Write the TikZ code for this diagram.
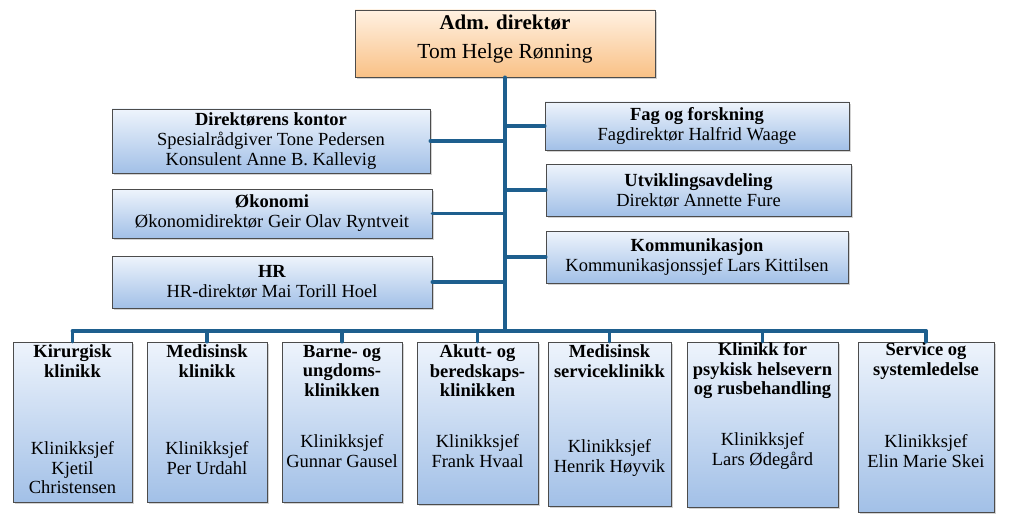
\documentclass[tikz,border=0pt]{standalone}
\usepackage{fontspec}
\setmainfont{Liberation Serif}
\usetikzlibrary{shadows}
\definecolor{linkblue}{HTML}{1E5F8E}
\definecolor{boxtop}{HTML}{EEF4FC}
\definecolor{boxbot}{HTML}{A2C0E7}
\definecolor{admtop}{HTML}{FFF1E2}
\definecolor{admbot}{HTML}{F9C186}
\def\bustop{342}

\begin{document}
\begin{tikzpicture}[x=1pt,y=-1pt]
    \tikzset{%
      box/.style={%
        draw=black!70, line width=0.6pt, top color=boxtop, bottom color=boxbot,
        drop shadow={shadow xshift=2pt, shadow yshift=-2pt, opacity=0.35},
        align=center, inner sep=1pt, font=\fontsize{18.5}{20}\selectfont},
      admbox/.style={box, top color=admtop, bottom color=admbot},
      cltext/.style={align=center, inner sep=0pt, font=\fontsize{18.5}{19.5}\selectfont},
      conn/.style={linkblue, line width=3.6pt, line cap=round, line join=round}}

    \fill[white] (0,0) rectangle (1024,524);
    \useasboundingbox (0,0) rectangle (1024,524);

    % top
    \node[admbox, minimum width=300pt, minimum height=67pt] (adm) at (505,43.5) {};
    \node[cltext, font=\fontsize{21}{24}\selectfont\bfseries] (adm-t) at (505,23) {Adm. direktør};
    \node[cltext, font=\fontsize{21.5}{24}\selectfont] (adm-n) at (505,53) {Tom Helge Rønning};

    % staff, left side
    \node[box, minimum width=318pt, minimum height=64pt] (dir) at (271,141)
      {\textbf{Direktørens kontor}\\Spesialrådgiver Tone Pedersen\\Konsulent Anne B. Kallevig};
    \node[box, minimum width=320pt, minimum height=49pt] (oko) at (272,213.5)
      {\textbf{Økonomi}\\Økonomidirektør Geir Olav Ryntveit};
    \node[box, minimum width=320pt, minimum height=52pt] (hr) at (272,282)
      {\textbf{HR}\\HR-direktør Mai Torill Hoel};

    % staff, right side
    \node[box, minimum width=304pt, minimum height=48pt] (fag) at (697,126)
      {\textbf{Fag og forskning}\\Fagdirektør Halfrid Waage};
    \node[box, minimum width=305pt, minimum height=52pt] (utv) at (698.5,190)
      {\textbf{Utviklingsavdeling}\\Direktør Annette Fure};
    \node[box, minimum width=302pt, minimum height=52pt] (kom) at (697,257)
      {\textbf{Kommunikasjon}\\Kommunikasjonssjef Lars Kittilsen};

    % clinics
    \foreach \nm/\xa/\xb/\yb/\ty/\title/\ny/\names in {%
      kir/13/132/502/361/{Kirurgisk\\klinikk}/468/{Klinikksjef\\Kjetil\\Christensen},
      med/147/267/502/361/{Medisinsk\\klinikk}/458/{Klinikksjef\\Per Urdahl},
      bu/282/402/502/371/{Barne- og\\ungdoms-\\klinikken}/451/{Klinikksjef\\Gunnar Gausel},
      akutt/417/538/504/371/{Akutt- og\\beredskaps-\\klinikken}/451/{Klinikksjef\\Frank Hvaal},
      msk/548/671/506/361/{Medisinsk\\serviceklinikk}/458/{Klinikksjef\\Henrik Høyvik},
      psyk/687/838/507/371/{Klinikk for\\psykisk helsevern\\og rusbehandling}/451/{Klinikksjef\\Lars Ødegård},
      ssl/858/994/512/361/{Service og\\systemledelse}/451/{Klinikksjef\\Elin Marie Skei}}{
      \node[box, minimum width={(\xb-\xa)*1pt}, minimum height={(\yb-\bustop)*1pt}] (\nm)
        at ({(\xa+\xb)/2},{(\bustop+\yb)/2}) {};
      \node[cltext, font=\fontsize{18.5}{19.5}\selectfont\bfseries] (\nm-t) at ({(\xa+\xb)/2},\ty) {\title};
      \node[cltext] (\nm-n) at ({(\xa+\xb)/2},\ny) {\names};
    }

    % lines
    \coordinate (hub) at (505,331);
    \draw[conn] (adm.south) -- (hub);
    \foreach \nm in {dir,oko,hr}
      \draw[conn] (\nm.east) -- (\nm.east -| adm.south);
    \foreach \nm in {fag,utv,kom}
      \draw[conn] (\nm.west) -- (\nm.west -| adm.south);
    \draw[conn] (kir.north |- hub) -- (ssl.north |- hub);
    \foreach \nm in {kir,med,bu,akutt,msk,psyk,ssl}
      \draw[conn] (\nm.north |- hub) -- (\nm.north);
\end{tikzpicture}
\end{document}
